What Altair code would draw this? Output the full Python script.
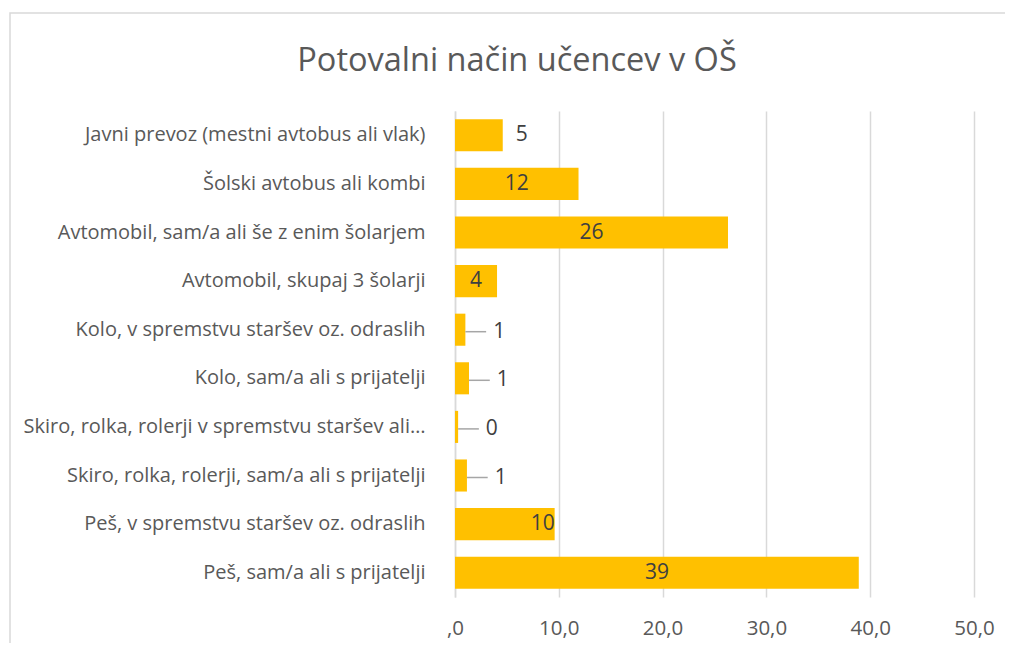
import altair as alt
import pandas as pd

categories = [
    "Javni prevoz (mestni avtobus ali vlak)",
    "Šolski avtobus ali kombi",
    "Avtomobil, sam/a ali še z enim šolarjem",
    "Avtomobil, skupaj 3 šolarji",
    "Kolo, v spremstvu staršev oz. odraslih",
    "Kolo, sam/a ali s prijatelji",
    "Skiro, rolka, rolerji v spremstvu staršev ali…",
    "Skiro, rolka, rolerji, sam/a ali s prijatelji",
    "Peš, v spremstvu staršev oz. odraslih",
    "Peš, sam/a ali s prijatelji",
]
values = [4.6, 11.9, 26.3, 4.05, 1.0, 1.35, 0.3, 1.15, 9.6, 38.9]
label_mode = ["outside", "center", "center", "center", "leader",
              "leader", "leader", "leader", "inside_end", "center"]
x_ticks = [0, 10, 20, 30, 40, 50]
title_text = ["Potovalni način učencev v OŠ"]

df = pd.DataFrame({"category": categories, "value": values, "mode": label_mode})

FONT = "Open Sans"
TXT = "#595959"
LBL = "#404040"
GRID = "#d9d9d9"

y_enc = alt.Y(
    "category:N",
    sort=categories,
    title=None,
    scale=alt.Scale(paddingInner=0.34, paddingOuter=0.17),
    axis=alt.Axis(
        domain=True, domainColor=GRID, domainWidth=1.5, ticks=False,
        labelPadding=30, labelFontSize=20, labelColor=TXT, labelFont=FONT,
        labelLimit=600,
    ),
)

x_axis = alt.Axis(
    values=x_ticks,
    labelExpr="datum.value == 0 ? ',0' : replace(format(datum.value, '.1f'), '.', ',')",
    domain=False, ticks=False, grid=True, gridColor=GRID, gridWidth=1.5,
    labelFontSize=20.5, labelColor=TXT, labelFont=FONT, labelPadding=21,
    labelFlush=False,
)

base = alt.Chart(df)

bars = base.mark_bar(color="#FFC000").encode(
    x=alt.X("value:Q", scale=alt.Scale(domain=[0, 50]), axis=x_axis, title=None),
    y=y_enc,
)

text_props = dict(fontSize=21, color=LBL, font=FONT, baseline="middle")

center_lbl = base.transform_filter("datum.mode == 'center'").transform_calculate(
    mid="datum.value / 2", lbl="format(datum.value, '.0f')"
).mark_text(align="center", **text_props).encode(
    x=alt.X("mid:Q"), y=alt.Y("category:N", sort=categories), text="lbl:N"
)

end_lbl = base.transform_filter("datum.mode == 'inside_end'").transform_calculate(
    lbl="format(datum.value, '.0f')"
).mark_text(align="right", dx=0, **text_props).encode(
    x=alt.X("value:Q"), y=alt.Y("category:N", sort=categories), text="lbl:N"
)

out_lbl = base.transform_filter("datum.mode == 'outside'").transform_calculate(
    lbl="format(datum.value, '.0f')"
).mark_text(align="left", dx=13, **text_props).encode(
    x=alt.X("value:Q"), y=alt.Y("category:N", sort=categories), text="lbl:N"
)

leader = base.transform_filter("datum.mode == 'leader'").transform_calculate(
    end="datum.value + 2.0"
).mark_rule(color="#a6a6a6", strokeWidth=1.5, yOffset=2).encode(
    x=alt.X("value:Q"), x2="end:Q", y=alt.Y("category:N", sort=categories)
)

leader_lbl = base.transform_filter("datum.mode == 'leader'").transform_calculate(
    end="datum.value + 2.0", lbl="format(datum.value, '.0f')"
).mark_text(align="left", dx=7, dy=2, **text_props).encode(
    x=alt.X("end:Q"), y=alt.Y("category:N", sort=categories), text="lbl:N"
)

frame = alt.Chart(pd.DataFrame({"k": [0]})).mark_rect(
    fill=None, stroke=GRID, strokeWidth=1.5
).encode(
    x=alt.value(-445), x2=alt.value(700), y=alt.value(-98), y2=alt.value(600)
)

title = alt.Chart(pd.DataFrame({"t": title_text})).mark_text(
    fontSize=32.5, font=FONT, color=TXT, align="center", baseline="middle"
).encode(
    text="t:N", x=alt.value(62), y=alt.value(-50)
)

chart = alt.layer(frame, bars, center_lbl, end_lbl, out_lbl, leader, leader_lbl, title).properties(
    width=519,
    height=486,
    autosize=alt.AutoSizeParams(type="none"),
    padding={"left": 447, "top": 103, "right": 31, "bottom": 46},
).configure_view(stroke=None)

chart.save("out.html", embed_options={"renderer": "svg", "actions": False})
